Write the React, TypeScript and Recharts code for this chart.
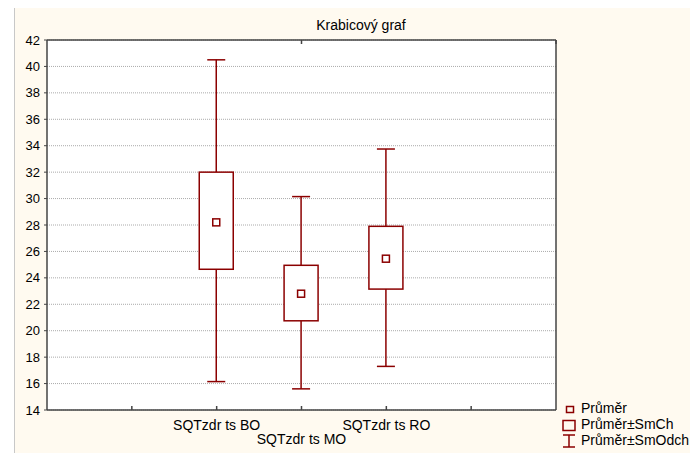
import { ComposedChart, Bar, XAxis, YAxis, CartesianGrid } from 'recharts';

const categories = ['SQTzdr ts BO', 'SQTzdr ts MO', 'SQTzdr ts RO'];
const positions = [2, 3, 4];
const means = [28.2, 22.8, 25.45];
const boxLow = [24.65, 20.75, 23.15];
const boxHigh = [32.0, 24.95, 27.9];
const whiskerLow = [16.15, 15.6, 17.3];
const whiskerHigh = [40.5, 30.15, 33.75];

const yTicks = [14, 16, 18, 20, 22, 24, 26, 28, 30, 32, 34, 36, 38, 40, 42];
const xTicks = [1, 2, 3, 4, 5];
const legendLabels = ['Průměr', 'Průměr±SmCh', 'Průměr±SmOdch'];
const title = 'Krabicový graf';

const data = categories.map((name, i) => ({
  name,
  pos: positions[i],
  range: [whiskerLow[i], whiskerHigh[i]],
  mean: means[i],
  lo: boxLow[i],
  hi: boxHigh[i],
  wLo: whiskerLow[i],
  wHi: whiskerHigh[i],
}));

const RED = '#8b0000';
const AXIS = '#444';
const FONT = '"Liberation Sans", Arial, sans-serif';

const BoxShape = (props: any) => {
  const { x, y, width, height, payload } = props;
  const top = Math.min(y, y + height);
  const h = Math.abs(height);
  const py = (v: number) => top + ((payload.wHi - v) / (payload.wHi - payload.wLo)) * h;
  const cx = x + width / 2;
  const cap = 9;
  const yHi = py(payload.hi);
  const yLo = py(payload.lo);
  const yMean = py(payload.mean);
  return (
    <g stroke={RED} strokeWidth={1.5} fill="none">
      <line x1={cx} x2={cx} y1={top} y2={yHi} />
      <line x1={cx - cap} x2={cx + cap} y1={top} y2={top} />
      <line x1={cx} x2={cx} y1={yLo} y2={top + h} />
      <line x1={cx - cap} x2={cx + cap} y1={top + h} y2={top + h} />
      <rect x={x} y={yHi} width={width} height={yLo - yHi} fill="#fff" />
      <rect x={cx - 3.5} y={yMean - 3.5} width={7} height={7} fill="#fff" />
    </g>
  );
};

const BottomTick = (props: any) => {
  const { x, y, payload } = props;
  const i = positions.indexOf(payload.value);
  return (
    <g>
      <line x1={x} x2={x} y1={y} y2={y - 4} stroke={AXIS} strokeWidth={1.5} />
      {i >= 0 && (
        <text x={x} y={y + (i % 2 === 1 ? 34 : 20)} textAnchor="middle" fontSize={14} fill="#000" fontFamily={FONT}>
          {categories[i]}
        </text>
      )}
    </g>
  );
};

const TopTick = (props: any) => {
  const { x, y } = props;
  return <line x1={x} x2={x} y1={y} y2={y + 4} stroke={AXIS} strokeWidth={1.5} />;
};

const RightTick = (props: any) => {
  const { x, y } = props;
  return <line x1={x} x2={x - 4} y1={y} y2={y} stroke={AXIS} strokeWidth={1.5} />;
};

export default function App() {
  return (
    <div style={{ position: 'absolute', left: 0, top: 0, width: 690, height: 453, background: '#fff', overflow: 'hidden' }}>
      <div
        style={{
          position: 'absolute',
          left: 14,
          top: 8,
          width: 676,
          height: 445,
          background: '#fffaf0',
          borderLeft: '1px solid #c8c8c8',
          boxSizing: 'border-box',
        }}
      />
      <div style={{ position: 'absolute', left: 0, top: 0 }}>
        <ComposedChart width={690} height={453} data={data} margin={{ top: 39, right: 133, bottom: 0, left: 0 }}>
          <CartesianGrid vertical={false} stroke="#aaa" strokeDasharray="1 1" fill="#fff" />
          <XAxis
            dataKey="pos"
            type="number"
            domain={[0, 6]}
            ticks={xTicks}
            height={43}
            tickSize={0}
            tickMargin={0}
            tick={<BottomTick />}
            axisLine={{ stroke: AXIS, strokeWidth: 1.5 }}
            interval={0}
          />
          <XAxis
            xAxisId="top"
            orientation="top"
            type="number"
            domain={[0, 6]}
            ticks={xTicks}
            height={1}
            tickSize={0}
            tickMargin={0}
            tick={<TopTick />}
            axisLine={{ stroke: AXIS, strokeWidth: 1.5 }}
            interval={0}
          />
          <YAxis
            domain={[14, 42]}
            ticks={yTicks}
            width={47}
            tickSize={3}
            tickMargin={4}
            interval={0}
            tick={{ fontSize: 13, fill: '#000', fontFamily: FONT }}
            tickLine={{ stroke: AXIS }}
            axisLine={{ stroke: AXIS, strokeWidth: 1.5 }}
          />
          <YAxis
            yAxisId="right"
            orientation="right"
            domain={[14, 42]}
            ticks={yTicks}
            width={1}
            tickSize={0}
            tickMargin={0}
            interval={0}
            tick={<RightTick />}
            axisLine={{ stroke: AXIS, strokeWidth: 1.5 }}
          />
          <Bar dataKey="range" barSize={34} shape={<BoxShape />} isAnimationActive={false} />
        </ComposedChart>
      </div>
      <svg width={690} height={453} style={{ position: 'absolute', left: 0, top: 0, pointerEvents: 'none' }}>
        <text x={361} y={30} textAnchor="middle" fontSize={14} fontFamily={FONT} fill="#000">
          {title}
        </text>
        <g stroke={RED} strokeWidth={1.5} fill="none">
          <rect x={566.5} y={406.5} width={7} height={6} />
          <rect x={563} y={420.5} width={12} height={10} />
          <line x1={563} x2={575} y1={435} y2={435} />
          <line x1={569} x2={569} y1={435} y2={447} />
          <line x1={563} x2={575} y1={447} y2={447} />
        </g>
        <g fontSize={14} fontFamily={FONT} fill="#000">
          <text x={581} y={413}>{legendLabels[0]}</text>
          <text x={581} y={429}>{legendLabels[1]}</text>
          <text x={581} y={445}>{legendLabels[2]}</text>
        </g>
      </svg>
    </div>
  );
}
